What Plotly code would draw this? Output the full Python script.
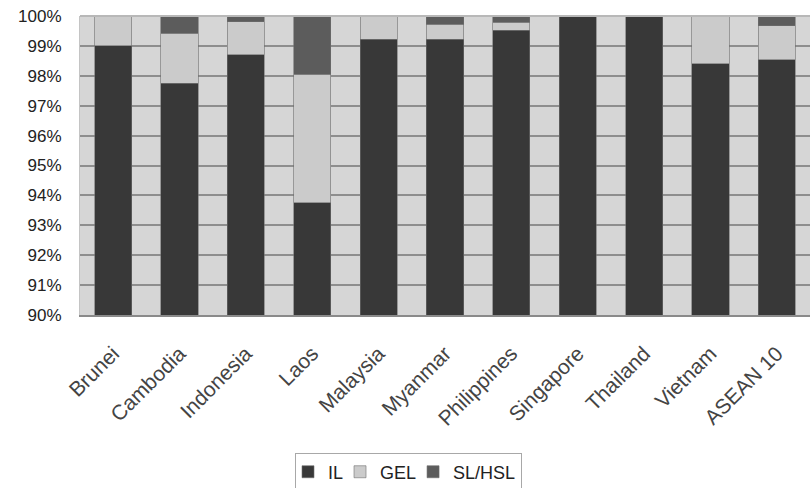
import plotly.graph_objects as go

countries = ["Brunei", "Cambodia", "Indonesia", "Laos", "Malaysia", "Myanmar",
             "Philippines", "Singapore", "Thailand", "Vietnam", "ASEAN 10"]
il = [99.0, 97.75, 98.7, 93.75, 99.23, 99.23, 99.53, 100.0, 100.0, 98.4, 98.53]
gel = [1.0, 1.68, 1.1, 4.3, 0.77, 0.5, 0.26, 0.0, 0.0, 1.6, 1.14]
sl_hsl = [0.0, 0.57, 0.2, 1.95, 0.0, 0.27, 0.21, 0.0, 0.0, 0.0, 0.33]

font_family = "Liberation Sans, Arial, sans-serif"

fig = go.Figure()
for name, vals, color in [("IL", il, "#383838"),
                          ("GEL", gel, "#cbcbcb"),
                          ("SL/HSL", sl_hsl, "#5c5c5c")]:
    fig.add_trace(go.Bar(
        x=countries, y=vals, name=name,
        marker=dict(color=color, line=dict(color="#6e6e6e", width=0.6)),
        width=0.56,
    ))

fig.update_layout(
    barmode="stack",
    width=811, height=488,
    margin=dict(l=80, r=1, t=16, b=173, autoexpand=False),
    paper_bgcolor="white",
    plot_bgcolor="#d6d6d6",
    font=dict(family=font_family, size=17, color="#333333"),
    showlegend=True,
    legend=dict(
        orientation="h", x=0.45, xanchor="center", y=-0.46, yanchor="top",
        bordercolor="#a8a8a8", borderwidth=1, bgcolor="white",
        font=dict(size=18, color="#222222"),
        itemwidth=30, traceorder="normal", indentation=-8,
    ),
    xaxis=dict(
        tickangle=-45, tickfont=dict(size=21, color="#444444"),
        showgrid=False, showline=True, linecolor="#8a8a8a", linewidth=2,
        mirror=False, ticks="", ticklabelstandoff=16, automargin=False,
    ),
    yaxis=dict(
        range=[90, 100], dtick=1, ticksuffix="%",
        tickfont=dict(size=17, color="#222222"),
        showgrid=True, gridcolor="#8e8e8e", gridwidth=1.5,
        showline=True, linecolor="#c4c4c4", linewidth=1,
        ticks="", ticklabelstandoff=14, zeroline=False, automargin=False,
    ),
)

# light frame along the top of the plotting area
fig.add_shape(type="line", xref="paper", yref="paper", x0=0, x1=1, y0=1, y1=1,
              line=dict(color="#b8b8b8", width=2))

fig.write_html("out.html")
